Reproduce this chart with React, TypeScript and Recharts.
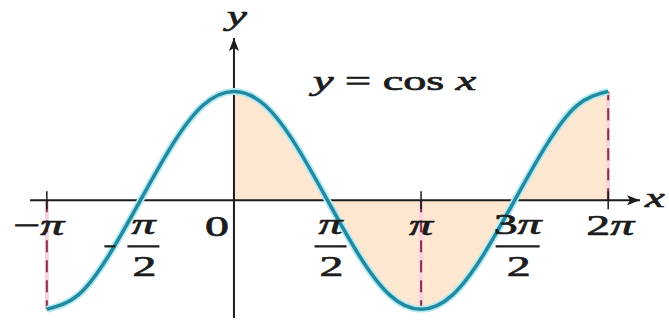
import { ComposedChart, Line, Area, XAxis, YAxis, ReferenceLine, ReferenceDot } from 'recharts';

// x positions in multiples of π, y
const X_PI = [-1, -0.833, -0.667, -0.5, -0.333, -0.167, 0, 0.167, 0.333, 0.5, 0.667, 0.833, 1, 1.167, 1.333, 1.5, 1.667, 1.833, 2];
const COS_Y = [-1, -0.87, -0.5, 0, 0.5, 0.87, 1, 0.87, 0.5, 0, -0.5, -0.87, -1, -0.87, -0.5, 0, 0.5, 0.87, 1];
const SHADE_START = 0;

// dashed drop lines (x in π units, y where they meet the curve)
const DASH_X = [-1, 1, 2];
const DASH_Y = [-1, -1, 1];

// tick labels
const TICK_X = [-1, -0.5, 0.5, 1, 1.5, 2];
const TICK_TOP = ['−π', 'π', 'π', 'π', '3π', '2π'];
const TICK_FRAC = [false, true, true, false, true, false];
const TICK_SIGN = [false, true, false, false, false, false];
const TICK_MARK = [-1, 1, 2];

const X_DOMAIN: [number, number] = [-1.09, 2.17];
const Y_DOMAIN: [number, number] = [-1.08, 1.49];

const W = 669;
const H = 322;
const FONT = '"Liberation Serif", "DejaVu Serif", serif';
const SX = 1.65;
const INK = '#1c1c1c';

const data = X_PI.map((x, i) => ({
  x,
  y: COS_Y[i],
  shade: x >= SHADE_START ? COS_Y[i] : null,
}));

function MathText({ x, y, text, anchor = 'middle', size = 29 }: { x: number; y: number; text: string; anchor?: string; size?: number }) {
  // the reference glyphs are stretched sideways, so scale x only
  const parts = text.split(/(π|x|y)/).filter(Boolean);
  return (
    <text
      transform={`translate(${x} ${y}) scale(${SX} 1)`}
      textAnchor={anchor as any}
      fontFamily={FONT}
      fontSize={size}
      fill={INK}
      stroke={INK}
      strokeWidth={0.7}
    >
      {parts.map((p, i) => (
        <tspan key={i} fontStyle={p === 'π' || p === 'x' || p === 'y' ? 'italic' : 'normal'}>{p}</tspan>
      ))}
    </text>
  );
}

function tickShape(i: number) {
  return (props: any) => {
    const { cx, cy } = props;
    const frac = TICK_FRAC[i];
    const top = TICK_TOP[i];
    if (!frac) {
      return (
        <g>
          <MathText x={cx - (top === '−π' ? 8 : top === '2π' ? -2 : 0)} y={cy + 35} text={top} />
        </g>
      );
    }
    const half = top.length > 1 ? 22 : 16;
    return (
      <g>
        <MathText x={cx + 3} y={cy + 34} text={top} />
        <line x1={cx + 3 - half} x2={cx + 3 + half} y1={cy + 46} y2={cy + 46} stroke={INK} strokeWidth={2.2} />
        {TICK_SIGN[i] && (
          <line x1={cx - 36} x2={cx - 25} y1={cy + 46} y2={cy + 46} stroke={INK} strokeWidth={2.2} />
        )}
        <MathText x={cx + 4} y={cy + 76} text="2" />
      </g>
    );
  };
}

const tickMark = (props: any) => {
  const { cx, cy } = props;
  return <line x1={cx} x2={cx} y1={cy - 9} y2={cy + 9} stroke={INK} strokeWidth={1.5} />;
};

const arrowRight = (props: any) => {
  const { cx, cy } = props;
  return <path d={`M${cx} ${cy} L${cx - 13} ${cy - 5} L${cx - 10} ${cy} L${cx - 13} ${cy + 5} Z`} fill={INK} />;
};

const arrowUp = (props: any) => {
  const { cx, cy } = props;
  return <path d={`M${cx} ${cy} L${cx - 5} ${cy + 13} L${cx} ${cy + 10} L${cx + 5} ${cy + 13} Z`} fill={INK} />;
};

const originLabel = (props: any) => {
  const { cx, cy } = props;
  return (
    <g>
      <MathText x={cx - 17} y={cy + 36} text="0" />
      <MathText x={cx + 3} y={cy - 175} text="y" size={27} />
    </g>
  );
};

const xLabel = (props: any) => {
  const { cx, cy } = props;
  return <MathText x={cx + 15} y={cy + 7} text="x" size={27} />;
};

export default function App() {
  return (
    <div style={{ position: 'absolute', left: 0, top: 0, width: W, height: H, background: '#fff' }}>
      <ComposedChart width={W} height={H} data={data} margin={{ top: 38, right: 29, bottom: 4, left: 30 }}>
        <XAxis type="number" dataKey="x" domain={X_DOMAIN} allowDataOverflow hide />
        <YAxis type="number" domain={Y_DOMAIN} allowDataOverflow hide />
        <Area
          type="natural"
          dataKey="shade"
          baseValue={0}
          stroke="none"
          fill="#fde3c8"
          fillOpacity={0.85}
          connectNulls={false}
          isAnimationActive={false}
          dot={false}
          activeDot={false}
        />
        {DASH_X.map((x, i) => (
          <ReferenceLine
            key={`d${i}`}
            segment={[{ x, y: 0 }, { x, y: DASH_Y[i] }]}
            stroke="#f6d3de"
            strokeWidth={4}
          />
        ))}
        {DASH_X.map((x, i) => (
          <ReferenceLine
            key={`dd${i}`}
            segment={[{ x, y: 0 }, { x, y: DASH_Y[i] }]}
            stroke="#8c3048"
            strokeWidth={2}
            strokeDasharray="12 8"
          />
        ))}
        <ReferenceLine y={0} stroke={INK} strokeWidth={2} />
        <ReferenceLine x={0} stroke={INK} strokeWidth={2} />
        <Line type="natural" dataKey="y" stroke="#b0eaf3" strokeWidth={7} dot={false} activeDot={false} isAnimationActive={false} />
        <Line type="natural" dataKey="y" stroke="#24899e" strokeWidth={3.5} dot={false} activeDot={false} isAnimationActive={false} />
        {TICK_MARK.map(x => (
          <ReferenceDot key={`m${x}`} x={x} y={0} r={1} shape={tickMark} />
        ))}
        {TICK_X.map((x, i) => (
          <ReferenceDot key={`t${i}`} x={x} y={0} r={1} shape={tickShape(i)} />
        ))}
        <ReferenceDot x={0} y={0} r={1} shape={originLabel} />
        <ReferenceDot x={X_DOMAIN[1]} y={0} r={1} shape={arrowRight} />
        <ReferenceDot x={X_DOMAIN[1]} y={0} r={1} shape={xLabel} />
        <ReferenceDot x={0} y={Y_DOMAIN[1]} r={1} shape={arrowUp} />
        <text x={313} y={90} fontFamily={FONT} fontSize={28} fill={INK} stroke={INK} strokeWidth={0.7} transform={`translate(313 90) scale(${SX} 1) translate(-313 -90)`}>
          <tspan fontStyle="italic">y</tspan> = cos <tspan fontStyle="italic">x</tspan>
        </text>
      </ComposedChart>
    </div>
  );
}
